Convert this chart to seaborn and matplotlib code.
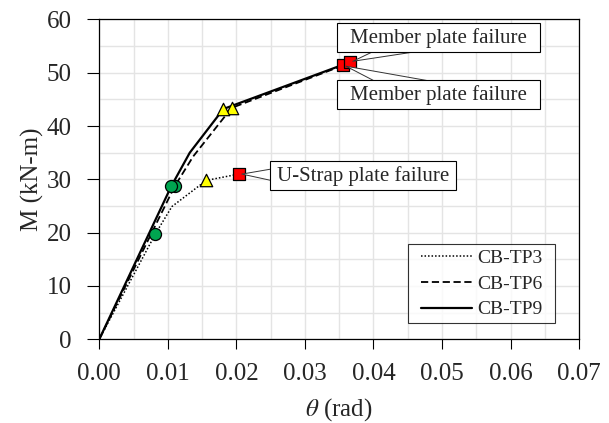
import numpy as np
import pandas as pd
import matplotlib
matplotlib.use("Agg")
import matplotlib.pyplot as plt
import seaborn as sns
from matplotlib.path import Path
from matplotlib.ticker import MultipleLocator, FormatStrFormatter

# ---- data ----
series_names = ["CB-TP3", "CB-TP6", "CB-TP9"]
theta_tp3 = [0.0, 0.0082, 0.0106, 0.0156, 0.0204]
m_tp3 = [0.0, 19.8, 24.9, 29.8, 31.0]
theta_tp6 = [0.0, 0.0110, 0.0137, 0.0193, 0.0356]
m_tp6 = [0.0, 28.7, 34.3, 43.4, 51.4]
theta_tp9 = [0.0, 0.0105, 0.0132, 0.0181, 0.0366]
m_tp9 = [0.0, 28.7, 35.0, 43.2, 52.0]
# index of each event point within a series
circle_idx, triangle_idx, square_idx = 1, 3, 4

annotation_texts = ["Member plate failure", "Member plate failure", "U-Strap plate failure"]
x_ticks = [0.00, 0.01, 0.02, 0.03, 0.04, 0.05, 0.06, 0.07]
y_ticks = [0, 10, 20, 30, 40, 50, 60]

sns.set_theme(style="white")
plt.rcParams["font.family"] = ["Liberation Serif", "DejaVu Serif"]
plt.rcParams["mathtext.fontset"] = "stix"

fig = plt.figure(figsize=(6.09, 4.23), dpi=100)
ax = fig.add_axes([0.163, 0.198, 0.951 - 0.163, 0.954 - 0.198])

thetas = [theta_tp3, theta_tp6, theta_tp9]
moments = [m_tp3, m_tp6, m_tp9]
styles = [(0, (1, 1.3)), (0, (4, 2)), "-"]
widths = [1.1, 1.3, 1.6]

for name, th, mm, ls, lw in zip(series_names, thetas, moments, styles, widths):
    df = pd.DataFrame({"theta": th, "M": mm})
    sns.lineplot(data=df, x="theta", y="M", ax=ax, sort=False, color="black",
                 linestyle=ls, linewidth=lw, label=name, zorder=3)

for th, mm in zip(thetas, moments):
    sns.scatterplot(x=[th[circle_idx]], y=[mm[circle_idx]], ax=ax, marker="o", s=75,
                    color="#00A550", edgecolor="black", linewidth=0.9, zorder=5)
    sns.scatterplot(x=[th[triangle_idx]], y=[mm[triangle_idx]], ax=ax, marker="^", s=80,
                    color="#FFFF00", edgecolor="black", linewidth=0.9, zorder=5)
    sns.scatterplot(x=[th[square_idx]], y=[mm[square_idx]], ax=ax, marker="s", s=75,
                    color="#FF0000", edgecolor="black", linewidth=0.9, zorder=5)


def make_box(padx_frac, pady_frac):
    def box(x0, y0, width, height, mutation_size):
        px = padx_frac * mutation_size
        py = pady_frac * mutation_size
        x0, y0 = x0 - px, y0 - py
        x1, y1 = x0 + width + 2 * px, y0 + height + 2 * py
        return Path([(x0, y0), (x1, y0), (x1, y1), (x0, y1), (x0, y0)], closed=True)
    return box


# callouts
ann_targets = [(theta_tp9[square_idx], m_tp9[square_idx]),
               (theta_tp6[square_idx], m_tp6[square_idx]),
               (theta_tp3[square_idx], m_tp3[square_idx])]
ann_pos = [(0.0495, 56.6), (0.0495, 45.9), (0.0385, 30.7)]
ann_padx = [0.62, 0.62, 0.33]
ann_relpos = [(0.45, 0.5), (0.45, 0.5), (0.2, 0.5)]
ann_tail = [1.15, 1.3, 1.3]
for txt, tgt, pos, pdx, rp, tw in zip(annotation_texts, ann_targets, ann_pos,
                                      ann_padx, ann_relpos, ann_tail):
    ax.annotate(txt, xy=tgt, xytext=pos, textcoords="data", ha="center", va="center",
                fontsize=15, zorder=6,
                bbox=dict(boxstyle=make_box(pdx, 0.22), fc="white", ec="black", lw=0.8),
                arrowprops=dict(arrowstyle=f"wedge,tail_width={tw},shrink_factor=0.5",
                                fc="white", ec="#333333", lw=0.7, patchA=None,
                                relpos=rp, shrinkA=0, shrinkB=2))

ax.set_xlim(0, 0.07)
ax.set_ylim(0, 60)
ax.set_xticks(x_ticks)
ax.set_yticks(y_ticks)
ax.xaxis.set_major_formatter(FormatStrFormatter("%.2f"))
ax.xaxis.set_minor_locator(MultipleLocator(0.005))
ax.yaxis.set_minor_locator(MultipleLocator(5))
ax.grid(True, which="both", color="#e4e4e4", linewidth=1.0, zorder=0)
ax.set_axisbelow(True)
ax.tick_params(axis="both", which="major", direction="out", width=0.8,
               color="black", labelsize=18, bottom=True, left=True)
ax.tick_params(axis="x", which="major", length=7, pad=10)
ax.tick_params(axis="y", which="major", length=9, pad=11)
ax.tick_params(axis="both", which="minor", length=0)
for sp in ax.spines.values():
    sp.set_color("black")
    sp.set_linewidth(0.9)

ax.set_xlabel(r"$\theta$ (rad)", fontsize=18, labelpad=8)
ax.set_ylabel("M (kN-m)", fontsize=18, labelpad=2)

leg = ax.legend(loc="lower right", bbox_to_anchor=(0.934, 0.05), borderaxespad=0,
                fontsize=14, frameon=True, fancybox=False, edgecolor="black",
                handlelength=2.6, handletextpad=0.3, labelspacing=0.42,
                borderpad=0.25)
leg.get_frame().set_linewidth(0.8)
leg.get_frame().set_boxstyle(make_box(0.4, 0.0))

fig.savefig("out.png", dpi=100)
